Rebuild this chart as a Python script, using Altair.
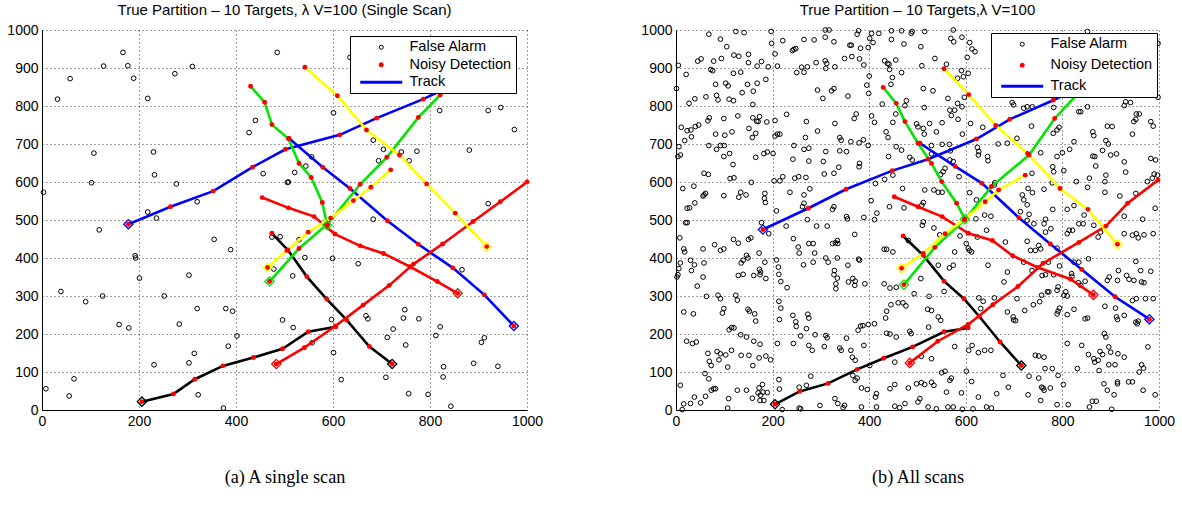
import altair as alt
import pandas as pd

# ---------------------------------------------------------------- data
X_TICKS = [0, 200, 400, 600, 800, 1000]
Y_TICKS = [0, 100, 200, 300, 400, 500, 600, 700, 800, 900, 1000]

LEGEND_ENTRIES = ["False Alarm", "Noisy Detection", "Track"]

TRACK_IDS = ["blue_a", "blue_b", "black_a", "black_b", "red_a", "red_b",
             "green_a", "green_b", "yellow_a", "yellow_b"]
TRACK_COLORS = ["#0000ff", "#0000ff", "#000000", "#000000", "#ff0000", "#ff0000",
                "#00e600", "#00e600", "#ffff00", "#ffff00"]

# single scan: clutter points
SINGLE_FALSE_ALARMS = [
    (3, 573), (8, 56), (56, 37), (58, 872), (32, 818), (66, 82), (39, 312), (90, 285),
    (102, 598), (107, 676), (118, 474), (125, 300), (127, 905), (167, 941), (159, 225),
    (177, 906), (179, 216), (189, 873), (192, 406), (193, 400), (201, 347), (218, 820),
    (218, 521), (230, 679), (232, 619), (236, 505), (231, 119), (252, 300), (274, 885),
    (277, 595), (283, 226), (303, 355), (303, 124), (310, 904), (314, 149), (320, 548),
    (320, 267), (322, 40), (355, 449), (374, 5), (379, 267), (384, 168), (389, 422),
    (393, 260), (402, 195), (427, 730), (440, 762), (456, 622), (474, 455), (478, 371),
    (485, 941), (491, 456), (496, 237), (506, 599), (508, 600), (517, 353), (518, 217),
    (521, 625), (530, 448), (542, 401), (544, 642), (556, 666), (557, 177), (597, 238),
    (601, 782), (599, 399), (601, 151), (617, 80), (652, 385), (668, 248), (672, 240),
    (683, 710), (683, 502), (694, 656), (704, 686), (712, 191), (709, 86), (724, 213),
    (741, 679), (757, 656), (748, 264), (745, 242), (750, 171), (756, 43), (773, 681),
    (777, 240), (796, 41), (812, 196), (821, 219), (820, 788), (828, 114), (827, 87),
    (843, 10), (866, 369), (881, 684), (890, 123), (906, 178), (912, 190), (920, 543),
    (920, 788), (946, 796), (940, 115), (974, 738), (635, 928),
]

# single scan: target tracks (first point is the track start)
SINGLE_TRACKS = {
    "blue_a": [(178, 489), (265, 535), (353, 576), (434, 639), (502, 686), (614, 724),
               (690, 768), (786, 818), (835, 848)],
    "blue_b": [(973, 221), (912, 303), (847, 374), (776, 436), (712, 498), (635, 583),
               (579, 639), (509, 715)],
    "black_a": [(206, 22), (271, 42), (315, 81), (373, 116), (436, 138), (496, 161),
                (549, 206), (606, 219)],
    "black_b": [(722, 121), (675, 167), (628, 237), (587, 292), (546, 351), (507, 421),
                (474, 465)],
    "red_a": [(483, 121), (541, 164), (605, 221), (662, 276), (716, 328), (766, 384),
              (826, 437), (889, 496), (945, 548), (1000, 600)],
    "red_b": [(857, 307), (815, 338), (759, 377), (704, 412), (656, 432), (604, 463),
              (561, 509), (508, 532), (454, 559)],
    "green_a": [(588, 486), (578, 546), (555, 612), (530, 649), (508, 714), (474, 751),
                (459, 810), (430, 852)],
    "green_b": [(469, 338), (530, 425), (590, 491), (656, 594), (711, 665), (776, 770),
                (821, 829), (860, 880)],
    "yellow_a": [(917, 430), (852, 518), (793, 595), (737, 671), (669, 737), (609, 827),
                 (542, 902)],
    "yellow_b": [(465, 375), (505, 420), (549, 468), (595, 505), (642, 551), (678, 586),
                 (719, 632)],
}

# all scans: clutter points, split by area of the surveillance region
ALL_FA_WEST_UPPER = [
    (68, 989), (124, 996), (141, 993), (197, 996), (309, 1000), (317, 1000), (92, 976),
    (198, 965), (221, 972), (265, 975), (286, 974), (309, 981), (327, 969), (105, 956),
    (150, 936), (120, 934), (130, 931), (205, 937), (244, 949), (248, 951), (241, 946),
    (45, 918), (52, 924), (78, 918), (94, 925), (150, 914), (168, 905), (177, 917),
    (191, 903), (210, 905), (5, 907), (21, 883), (72, 896), (76, 893), (119, 886),
    (134, 889), (250, 888), (260, 902), (265, 889), (272, 903), (290, 914), (309, 919),
    (312, 912), (310, 899), (329, 903), (1, 846), (82, 857), (103, 860), (108, 853),
    (148, 857), (168, 860), (186, 870), (137, 835), (160, 839), (293, 842), (327, 846),
    (322, 840), (304, 820), (27, 807), (39, 819), (62, 824), (84, 828), (87, 816),
    (110, 818), (119, 814), (159, 804), (69, 769), (66, 761), (99, 767), (128, 774),
    (159, 769), (167, 760), (173, 772), (170, 759), (188, 758), (205, 762), (229, 778),
    (11, 744), (23, 735), (31, 737), (40, 746), (47, 750), (18, 709), (32, 719), (82, 726),
    (101, 723), (116, 732), (151, 741), (158, 717), (165, 728), (205, 721), (210, 726),
    (215, 726), (270, 759), (293, 734), (329, 754), (268, 717), (6, 693), (4, 667),
    (9, 671), (68, 696), (84, 686), (92, 696), (100, 696), (99, 667), (111, 675),
    (118, 646), (165, 665), (182, 675), (189, 679), (201, 675), (244, 696), (265, 686),
    (275, 689), (242, 660), (275, 655), (305, 654), (310, 680), (58, 623), (67, 620),
    (14, 583), (37, 589), (112, 609), (120, 611), (156, 599), (203, 603), (215, 603),
    (221, 614), (246, 610), (254, 614), (269, 612), (307, 621), (327, 623), (58, 566),
    (61, 570), (99, 564), (130, 560), (134, 573), (145, 566), (184, 570), (183, 557),
    (185, 546), (236, 573), (265, 566), (277, 582), (23, 531), (28, 532), (39, 545),
    (56, 563), (208, 524), (265, 544), (262, 535), (324, 528), (327, 535),
]
ALL_FA_CENTRE_UPPER = [
    (378, 998), (375, 989), (405, 991), (401, 978), (420, 991), (446, 998), (467, 998),
    (489, 996), (487, 991), (515, 996), (574, 1000), (360, 960), (363, 960), (382, 952),
    (398, 954), (408, 967), (446, 975), (472, 963), (507, 956), (569, 978), (575, 969),
    (592, 981), (608, 967), (613, 950), (619, 943), (349, 925), (364, 930), (380, 924),
    (389, 908), (432, 919), (438, 912), (441, 910), (455, 921), (442, 896), (536, 925),
    (509, 906), (603, 928), (560, 910), (400, 879), (448, 875), (467, 888), (591, 893),
    (595, 877), (605, 886), (583, 873), (395, 855), (399, 833), (445, 857), (512, 846),
    (532, 840), (356, 826), (427, 805), (477, 814), (474, 801), (514, 796), (563, 820),
    (583, 807), (592, 798), (597, 823), (567, 789), (577, 789), (570, 775), (584, 765),
    (373, 779), (369, 767), (405, 774), (411, 757), (455, 779), (449, 757), (498, 753),
    (501, 745), (512, 741), (514, 726), (525, 754), (539, 732), (551, 756), (610, 754),
    (635, 744), (339, 717), (342, 710), (362, 706), (379, 703), (388, 711), (398, 696),
    (435, 732), (439, 717), (456, 693), (529, 696), (551, 699), (566, 699), (568, 682),
    (593, 726), (624, 691), (627, 680), (626, 671), (645, 667), (646, 656), (667, 700),
    (339, 682), (353, 680), (380, 649), (379, 640), (337, 639), (440, 667), (467, 684),
    (484, 665), (489, 658), (529, 674), (557, 636), (553, 627), (548, 620), (567, 658),
    (574, 654), (586, 614), (413, 596), (432, 607), (449, 618), (515, 579), (534, 579),
    (543, 573), (551, 573), (469, 583), (608, 572), (622, 553), (660, 598), (659, 592),
    (639, 513), (652, 510), (404, 551), (442, 535), (472, 532), (512, 546), (509, 539),
    (416, 518), (389, 507), (353, 509), (355, 503), (621, 503),
]
ALL_FA_EAST_UPPER = [
    (852, 996), (696, 809), (699, 803), (720, 794), (727, 798), (738, 798), (782, 796),
    (834, 785), (838, 785), (852, 798), (928, 801), (931, 811), (941, 809), (953, 779),
    (959, 779), (948, 759), (952, 765), (983, 759), (988, 747), (736, 747), (781, 728),
    (789, 737), (793, 744), (706, 715), (686, 702), (824, 706), (863, 732), (865, 722),
    (893, 747), (903, 746), (945, 726), (890, 709), (895, 700), (800, 677), (789, 667),
    (815, 686), (755, 677), (863, 668), (867, 667), (883, 683), (900, 671), (912, 674),
    (928, 653), (983, 662), (993, 658), (869, 642), (780, 640), (782, 627), (803, 630),
    (737, 623), (890, 618), (931, 626), (990, 621), (997, 618), (856, 610), (829, 601),
    (888, 601), (976, 601), (986, 610), (729, 583), (738, 572), (717, 566), (720, 553),
    (727, 540), (762, 581), (779, 598), (852, 586), (888, 573), (919, 563), (952, 570),
    (992, 531), (713, 522), (731, 515), (780, 528), (824, 538), (845, 513), (928, 510),
    (966, 502), (765, 502), (810, 528), (998, 965), (998, 823),
]
ALL_FA_WEST_LOWER = [
    (20, 493), (23, 493), (177, 493), (192, 464), (228, 484), (272, 501), (291, 484),
    (313, 484), (8, 453), (16, 424), (18, 416), (9, 387), (6, 372), (2, 350), (4, 356),
    (30, 394), (32, 367), (38, 382), (56, 424), (58, 387), (56, 350), (44, 326), (80, 435),
    (92, 420), (99, 424), (119, 449), (129, 439), (150, 449), (155, 453), (172, 413),
    (146, 407), (149, 400), (135, 387), (139, 394), (129, 354), (139, 357), (161, 354),
    (174, 356), (173, 370), (175, 363), (186, 346), (184, 389), (208, 395), (212, 376),
    (213, 357), (217, 338), (230, 322), (243, 451), (253, 429), (255, 413), (275, 438),
    (284, 438), (287, 413), (284, 389), (264, 382), (310, 400), (315, 389), (324, 438),
    (330, 440), (327, 356), (331, 332), (331, 319), (63, 299), (87, 302), (92, 293),
    (124, 302), (127, 289), (99, 267), (96, 255), (16, 258), (36, 253), (149, 265),
    (152, 260), (163, 253), (165, 234), (213, 286), (217, 268), (214, 238), (242, 249),
    (248, 232), (249, 220), (273, 252), (275, 242), (270, 214), (110, 211), (115, 217),
    (120, 216), (134, 198), (146, 192), (22, 181), (34, 175), (42, 179), (161, 181),
    (174, 173), (210, 175), (243, 175), (258, 195), (288, 198), (310, 196), (313, 190),
    (307, 167), (275, 170), (282, 157), (66, 149), (85, 154), (92, 148), (103, 145),
    (115, 157), (69, 128), (73, 117), (89, 132), (107, 113), (135, 144), (151, 144),
    (172, 137), (159, 117), (186, 142), (196, 132), (60, 96), (68, 82), (9, 65), (73, 52),
    (78, 56), (82, 56), (38, 34), (16, 16), (30, 17), (13, 1), (61, 36), (51, 19),
    (109, 30), (107, 5), (127, 52), (146, 52), (172, 58), (170, 45), (175, 39), (180, 47),
    (179, 67), (189, 46), (174, 25), (182, 25), (158, 31), (213, 80), (214, 55), (255, 60),
    (270, 65), (279, 89), (298, 12), (329, 30), (255, 5), (258, 3), (220, 1),
]
ALL_FA_CENTRE_LOWER = [
    (411, 501), (512, 495), (510, 486), (534, 479), (546, 461), (370, 462), (334, 446),
    (335, 438), (431, 423), (436, 423), (449, 416), (481, 446), (334, 400), (356, 381),
    (378, 397), (380, 394), (328, 367), (334, 347), (357, 337), (366, 346), (371, 339),
    (370, 328), (391, 332), (443, 321), (456, 323), (431, 332), (493, 306), (507, 346),
    (524, 299), (543, 381), (566, 374), (555, 312), (574, 381), (577, 416), (588, 458),
    (601, 438), (608, 420), (605, 426), (612, 416), (624, 455), (643, 473), (646, 381),
    (627, 295), (636, 286), (631, 267), (659, 295), (445, 277), (460, 282), (470, 282),
    (476, 274), (436, 260), (434, 242), (411, 227), (398, 225), (382, 221), (377, 210),
    (387, 222), (521, 265), (529, 262), (543, 245), (548, 236), (484, 207), (487, 201),
    (523, 218), (353, 189), (339, 163), (342, 157), (362, 157), (365, 139), (371, 131),
    (389, 170), (436, 202), (443, 200), (456, 192), (613, 170), (606, 157), (626, 151),
    (639, 157), (652, 157), (577, 167), (453, 126), (508, 141), (529, 135), (401, 117),
    (366, 91), (375, 84), (371, 78), (384, 58), (396, 54), (415, 43), (413, 34), (453, 67),
    (443, 56), (498, 69), (481, 58), (508, 72), (515, 67), (529, 73), (534, 65), (550, 98),
    (557, 102), (567, 78), (570, 84), (560, 47), (601, 102), (612, 75), (591, 45),
    (626, 34), (664, 43), (335, 17), (349, 12), (346, 6), (384, 8), (415, 8), (453, 10),
    (463, 6), (474, 17), (505, 30), (501, 21), (522, 8), (539, 3), (563, 8), (574, 8),
    (593, 2), (615, 3), (643, 8), (653, 5),
]
ALL_FA_EAST_LOWER = [
    (741, 490), (727, 499), (762, 490), (765, 468), (776, 477), (810, 464), (814, 473),
    (821, 473), (834, 490), (843, 490), (865, 486), (874, 455), (879, 468), (928, 464),
    (945, 460), (953, 464), (957, 453), (969, 461), (988, 464), (682, 442), (727, 444),
    (734, 420), (744, 420), (751, 433), (755, 424), (789, 426), (854, 398), (824, 389),
    (834, 389), (794, 379), (771, 389), (720, 389), (686, 363), (679, 337), (737, 367),
    (758, 354), (765, 356), (782, 356), (819, 359), (820, 352), (791, 324), (789, 315),
    (772, 311), (769, 311), (807, 311), (810, 300), (803, 302), (757, 302), (833, 335),
    (838, 328), (847, 339), (893, 341), (897, 350), (914, 341), (933, 354), (938, 344),
    (948, 341), (962, 367), (964, 337), (969, 335), (983, 365), (952, 391), (916, 367),
    (706, 293), (722, 262), (740, 277), (789, 253), (794, 268), (791, 260), (810, 251),
    (824, 265), (847, 240), (852, 242), (888, 273), (910, 268), (912, 245), (914, 238),
    (928, 249), (945, 288), (953, 293), (972, 293), (988, 293), (952, 231), (955, 227),
    (957, 234), (686, 258), (698, 245), (699, 237), (703, 235), (753, 285), (810, 175),
    (840, 170), (854, 146), (865, 135), (867, 126), (878, 154), (883, 146), (874, 131),
    (896, 166), (900, 152), (887, 201), (890, 192), (915, 148), (928, 139), (909, 119),
    (896, 119), (876, 104), (744, 144), (751, 142), (762, 139), (779, 109), (764, 109),
    (831, 109), (964, 119), (968, 110), (977, 166), (677, 91), (688, 60), (731, 89),
    (751, 84), (791, 91), (757, 60), (760, 58), (762, 52), (775, 58), (802, 67), (729, 40),
    (755, 25), (789, 14), (812, 14), (862, 23), (870, 23), (856, 8), (886, 69), (893, 52),
    (907, 40), (914, 74), (914, 69), (937, 74), (945, 74), (959, 100), (967, 52),
    (992, 40), (902, 2),
]

# all scans: target tracks (first point is the track start)
ALL_TRACKS = {
    "blue_a": [(180, 475), (274, 531), (352, 581), (448, 630), (522, 660), (622, 713),
               (691, 765), (781, 815), (835, 848)],
    "blue_b": [(980, 239), (909, 298), (840, 370), (775, 437), (710, 506), (633, 597),
               (578, 641), (505, 702)],
    "black_a": [(205, 15), (256, 49), (315, 70), (375, 107), (430, 136), (490, 166),
                (555, 206), (605, 216)],
    "black_b": [(715, 117), (671, 179), (628, 246), (596, 293), (555, 339), (512, 407),
                (470, 458)],
    "red_a": [(484, 124), (542, 181), (605, 225), (656, 277), (708, 325), (760, 386),
              (834, 441), (890, 484), (935, 544), (998, 605)],
    "red_b": [(864, 303), (817, 344), (749, 375), (697, 406), (655, 446), (605, 465),
              (551, 509), (501, 535), (452, 561)],
    "green_a": [(598, 502), (581, 544), (550, 601), (529, 649), (501, 702), (474, 759),
                (456, 807), (429, 849)],
    "green_b": [(472, 330), (536, 428), (597, 500), (653, 588), (731, 671), (784, 767),
                (830, 830), (860, 870)],
    "yellow_a": [(914, 436), (853, 528), (795, 583), (728, 675), (662, 749), (606, 830),
                 (555, 898)],
    "yellow_b": [(467, 373), (512, 412), (557, 464), (598, 503), (640, 548), (668, 579),
                 (723, 618)],
}

# ---------------------------------------------------------------- styling
SANS = "Liberation Sans"
SERIF = "Liberation Serif"

# legend glyphs: a solid dot and a horizontal stroke, as custom symbol paths
DOT_PATH = "M-0.6,0A0.6,0.6,0,1,0,0.6,0A0.6,0.6,0,1,0,-0.6,0Z"
LINE_PATH = "M-10.5,0L10.5,0"


def tracks_frame(tracks):
    rows = []
    for name, pts in tracks.items():
        for step, (px, py) in enumerate(pts):
            rows.append({"track": name, "step": step, "x": px, "y": py})
    return pd.DataFrame(rows)


def panel(title, caption, false_alarms, tracks, width, legend_x, legend_y, row_gap):
    fa = pd.DataFrame(false_alarms, columns=["x", "y"])
    tr = tracks_frame(tracks)
    lg = pd.DataFrame({"entry": LEGEND_ENTRIES, "x": [-500] * 3, "y": [-500] * 3})

    xs = alt.Scale(domain=[0, 1000], nice=False, zero=False)
    ys = alt.Scale(domain=[0, 1000], nice=False, zero=False)
    x = alt.X("x:Q", scale=xs, axis=alt.Axis(values=X_TICKS, title=caption, format="d"))
    y = alt.Y("y:Q", scale=ys, axis=alt.Axis(values=Y_TICKS, title=None, format="d"))
    stroke = alt.Stroke("track:N", scale=alt.Scale(domain=TRACK_IDS, range=TRACK_COLORS),
                        legend=None)

    clutter = alt.Chart(fa).mark_point(shape="circle", filled=False, color="black",
                                       size=22, strokeWidth=1, opacity=1).encode(x=x, y=y)
    lines = alt.Chart(tr).mark_line(strokeWidth=2.6).encode(
        x=x, y=y, stroke=stroke, detail="track:N", order="step:Q")
    dots = alt.Chart(tr).mark_circle(color="#ff0000", size=24, opacity=1).encode(x=x, y=y)
    starts = alt.Chart(tr).transform_filter("datum.step == 0").mark_point(
        shape="diamond", filled=False, size=85, strokeWidth=1.3, opacity=1
    ).encode(x=x, y=y, stroke=stroke)

    leg = alt.Legend(title=None, orient="none", legendX=legend_x, legendY=legend_y,
                     fillColor="white", strokeColor="black", padding=4,
                     rowPadding=row_gap, symbolSize=16, symbolOffset=20, labelOffset=21,
                     labelFont=SANS, labelFontSize=14.5, labelColor="black")
    key = alt.Chart(lg).mark_point(filled=False, opacity=1, clip=True).encode(
        x=x, y=y,
        color=alt.Color("entry:N", scale=alt.Scale(domain=LEGEND_ENTRIES,
                                                   range=["black", "#ff0000", "#0000ff"]),
                        legend=leg),
        shape=alt.Shape("entry:N", scale=alt.Scale(domain=LEGEND_ENTRIES,
                                                   range=["circle", DOT_PATH, LINE_PATH]),
                        legend=leg),
        strokeWidth=alt.StrokeWidth("entry:N",
                                    scale=alt.Scale(type="ordinal", domain=LEGEND_ENTRIES,
                                                    range=[1, 2.6, 3]),
                                    legend=leg),
    )
    return alt.layer(clutter, lines, dots, starts, key).properties(
        width=width, height=380,
        title=alt.Title(title, font=SANS, fontSize=15, fontWeight="normal",
                        color="black", offset=5),
    )


left = panel("True Partition \u2013 10 Targets, \u03bb V=100 (Single Scan)",
             "(a) A single scan", SINGLE_FALSE_ALARMS, SINGLE_TRACKS, 485, 308, 6, 2.5)
right = panel("True Partition \u2013 10 Targets,\u03bb V=100", "(b) All scans",
              ALL_FA_WEST_UPPER + ALL_FA_CENTRE_UPPER + ALL_FA_EAST_UPPER
              + ALL_FA_WEST_LOWER + ALL_FA_CENTRE_LOWER + ALL_FA_EAST_LOWER,
              ALL_TRACKS, 483, 315, 3, 6)

chart = alt.hconcat(left, right, spacing=97).resolve_scale(
    color="independent", shape="independent", strokeWidth="independent",
    stroke="independent"
).resolve_legend(
    color="independent", shape="independent", strokeWidth="independent"
).properties(
    padding={"left": 6, "top": 3, "right": 2, "bottom": 2},
    background="white",
).configure_view(stroke=None).configure_axis(
    domainColor="black", domainWidth=1, ticks=False, labelPadding=4, labelFlush=False,
    labelFont=SANS, labelFontSize=14, labelColor="black",
    grid=True, gridColor="black", gridDash=[1, 3], gridOpacity=0.75, gridWidth=1,
    titleFont=SERIF, titleFontSize=18.2, titleFontWeight="normal", titleColor="black",
    titlePadding=40,
)

chart.save("out.html", embed_options={"renderer": "svg", "actions": False})
